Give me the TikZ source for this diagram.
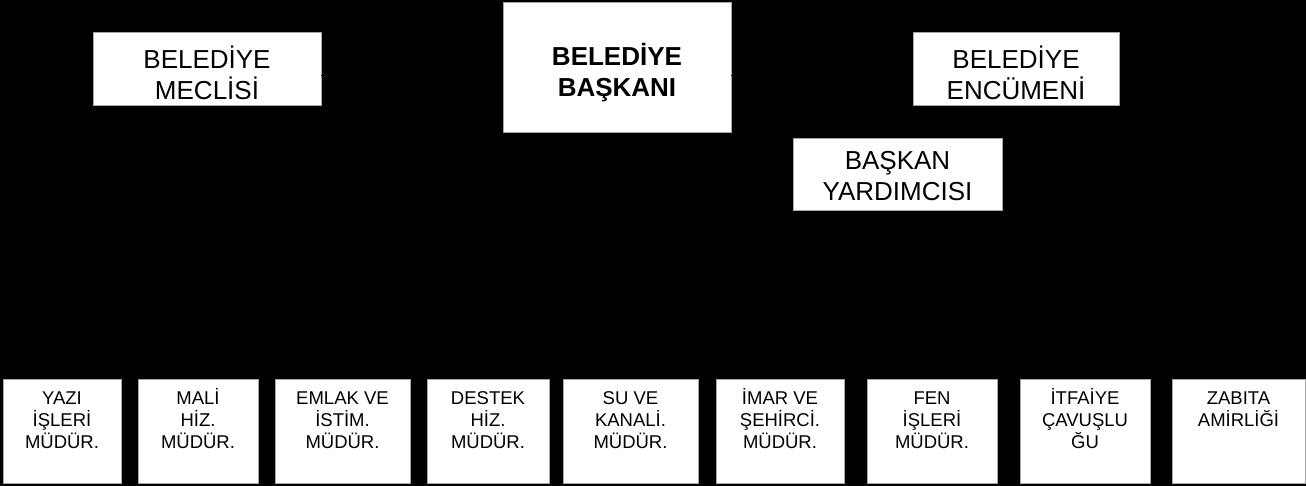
\documentclass[tikz,border=0pt]{standalone}
\usepackage{fontspec}
\setmainfont{Liberation Sans}
\usetikzlibrary{backgrounds}
\begin{document}
\begin{tikzpicture}[x=1pt,y=-1pt,
  box/.style={draw=gray!70, line width=0.75pt, fill=white, inner sep=0pt},
  conn/.style={draw=black, line width=1.3pt},
  toptext/.style={font=\fontsize{26}{31}\selectfont, align=center, inner sep=0pt},
  bigtext/.style={font=\fontsize{26}{31}\selectfont\bfseries, align=center, inner sep=0pt},
  bottext/.style={font=\fontsize{18.5}{22}\selectfont, align=center, inner sep=0pt, anchor=north}]
\useasboundingbox (0,0) rectangle (1306,486);
% top boxes
\node[box, minimum width=228pt, minimum height=73pt] (meclis) at (207,68.5) {};
\node[box, minimum width=228pt, minimum height=130pt] (baskan) at (617,67) {};
\node[box, minimum width=206pt, minimum height=73pt] (encumen) at (1016,68.5) {};
\node[box, minimum width=209pt, minimum height=72pt] (yard) at (897.5,174) {};
\node[toptext] (meclisT) at (207,72.5) {BELEDİYE\\MECLİSİ};
\node[bigtext] (baskanT) at (617,72.5) {BELEDİYE\\BAŞKANI};
\node[toptext] (encumenT) at (1016,72.5) {BELEDİYE\\ENCÜMENİ};
\node[toptext] (yardT) at (897.5,176.5) {BAŞKAN\\YARDIMCISI};
% bottom boxes
\foreach \n/\cx/\w in {b1/62/118, b2/198/120, b3/342.5/135, b4/488/122, b5/630.5/135, b6/780/128, b7/932/130, b8/1085/130, b9/1238.5/133}{
  \node[box, minimum width=\w pt, minimum height=104pt] (\n) at (\cx,431) {};
}
\node[bottext] (t1) at ([yshift=-9pt]b1.north) {\rule{0pt}{17pt}YAZI\\İŞLERİ\\MÜDÜR.};
\node[bottext] (t2) at ([yshift=-9pt]b2.north) {\rule{0pt}{17pt}MALİ\\HİZ.\\MÜDÜR.};
\node[bottext] (t3) at ([yshift=-9pt]b3.north) {\rule{0pt}{17pt}EMLAK VE\\İSTİM.\\MÜDÜR.};
\node[bottext] (t4) at ([yshift=-9pt]b4.north) {\rule{0pt}{17pt}DESTEK\\HİZ.\\MÜDÜR.};
\node[bottext] (t5) at ([yshift=-9pt]b5.north) {\rule{0pt}{17pt}SU VE\\KANALİ.\\MÜDÜR.};
\node[bottext] (t6) at ([yshift=-9pt]b6.north) {\rule{0pt}{17pt}İMAR VE\\ŞEHİRCİ.\\MÜDÜR.};
\node[bottext] (t7) at ([yshift=-9pt]b7.north) {\rule{0pt}{17pt}FEN\\İŞLERİ\\MÜDÜR.};
\node[bottext] (t8) at ([yshift=-9pt]b8.north) {\rule{0pt}{17pt}İTFAİYE\\ÇAVUŞLU\\ĞU};
\node[bottext] (t9) at ([yshift=-9pt]b9.north) {\rule{0pt}{17pt}ZABITA\\AMİRLİĞİ};
% connectors
\begin{scope}[on background layer]
\fill[black] (0,0) rectangle (1306,486);
\coordinate (bus) at (617,300);
\draw[conn] (baskan.south) -- (bus);
\draw[conn] (b1.north |- bus) -- (b9.north |- bus);
\foreach \n in {b1,b2,b3,b4,b5,b6,b7,b8,b9}{
  \draw[conn] (\n.north |- bus) -- (\n.north);
}
\end{scope}
\coordinate (yj) at (617,181.5);
\draw[conn] ([yshift=-7pt]meclis.east) -- ([yshift=-8.5pt]baskan.west);
\draw[conn] ([yshift=-8.5pt]baskan.east) -- ([yshift=-7pt]encumen.west);
\draw[conn] (yj) -- ([yshift=-7.5pt]yard.west);
\end{tikzpicture}
\end{document}
